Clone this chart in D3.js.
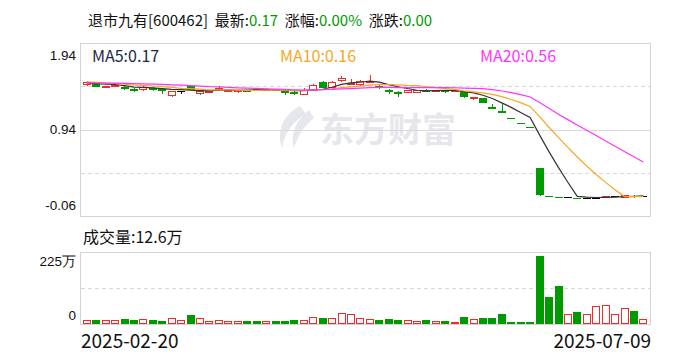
<!DOCTYPE html>
<meta charset="utf-8">
<style>
body { margin: 0; background: #fff; }
svg { font-family: 'Noto Sans CJK SC', 'Noto Sans', sans-serif; }
.frame { fill: none; stroke: #d4d4d8; shape-rendering: crispEdges; }
.grid-solid { stroke: #d9d9dd; shape-rendering: crispEdges; }
.grid-dash { stroke: #d9d9dd; stroke-dasharray: 4,3; shape-rendering: crispEdges; }
.axis .domain, .axis line { display: none; }
.axis text { fill: #111; font-size: 13.5px; }
.ma-line { fill: none; stroke-width: 1.2px; }
</style>
<svg width="688" height="360"></svg>
<script src="https://cdn.jsdelivr.net/npm/d3@7"></script>
<script>
var stockName = "退市九有[600462]";
var dates = ["2025-02-20", "2025-07-09"];

// closes before the first shown day, only used to seed the moving averages
var priorClose = [1.45, 1.46, 1.47, 1.48, 1.46, 1.45, 1.47, 1.48, 1.47, 1.47,
                  1.50, 1.51, 1.50, 1.49, 1.51, 1.48, 1.47, 1.47, 1.48];

var openPx  = [1.47,1.48,1.43,1.44,1.43,1.41,1.41,1.42,1.41,1.34, 1.38,1.44,1.36,1.37,1.41,1.39,1.38,1.40,1.41,1.40,
               1.41,1.38,1.37,1.35,1.40,1.49,1.43,1.51,1.47,1.47, 1.49,1.44,1.40,1.37,1.37,1.37,1.40,1.39,1.39,1.38,
               1.37,1.30,1.30,1.20,1.15,1.07,1.02,0.97,0.49,0.17, 0.16,0.16,0.15,0.15,0.15,0.16,0.17,0.16,0.17,0.17];
var highPx  = [1.50,1.49,1.44,1.46,1.44,1.42,1.44,1.43,1.41,1.38, 1.39,1.45,1.38,1.38,1.44,1.40,1.40,1.40,1.42,1.42,
               1.41,1.39,1.38,1.42,1.47,1.50,1.50,1.56,1.52,1.51, 1.57,1.47,1.41,1.39,1.40,1.40,1.41,1.40,1.40,1.39,
               1.38,1.32,1.30,1.23,1.24,1.07,1.02,0.97,0.49,0.17, 0.16,0.16,0.15,0.15,0.15,0.17,0.17,0.18,0.18,0.17];
var lowPx   = [1.46,1.44,1.43,1.44,1.41,1.38,1.40,1.40,1.36,1.33, 1.36,1.41,1.35,1.37,1.40,1.39,1.37,1.39,1.40,1.40,
               1.40,1.35,1.35,1.35,1.40,1.43,1.42,1.50,1.47,1.46, 1.49,1.42,1.36,1.33,1.37,1.37,1.38,1.39,1.37,1.38,
               1.32,1.29,1.26,1.19,1.14,1.07,1.02,0.97,0.18,0.17, 0.16,0.16,0.15,0.15,0.15,0.16,0.17,0.16,0.16,0.17];
var closePx = [1.49,1.44,1.44,1.45,1.42,1.40,1.43,1.41,1.40,1.38, 1.38,1.41,1.38,1.38,1.42,1.40,1.39,1.39,1.40,1.41,
               1.40,1.37,1.36,1.40,1.46,1.43,1.49,1.53,1.48,1.50, 1.50,1.43,1.38,1.36,1.40,1.40,1.39,1.40,1.38,1.39,
               1.33,1.32,1.26,1.19,1.14,1.07,1.02,0.97,0.19,0.17, 0.16,0.16,0.15,0.15,0.15,0.17,0.17,0.18,0.17,0.17];
// volume, in 万 (10k shares)
var volume = [10.5,10.5,10.5,10.5,13.6,10.5,13.6,10.5,8.5,16.7, 10.5,25.2,16.7,7.3,10.5,7.3,7.3,7.3,7.3,7.3,
              7.3,7.3,10.5,10.5,22,16.7,16.7,31.5,29.4,15.8, 13.6,10.5,13.6,10.5,10.5,7.3,10.5,7.3,7.3,4.1,
              19.9,13.6,16.7,16.7,29.4,4.1,4.1,4.1,212,83, 117.7,28.4,35.7,28.4,53.6,56.8,28.4,47.3,38.8,12.6];

var priceTicks = [1.94, 0.94, -0.06];
var priceDashed = [1.44, 0.44];
var volumeTicks = [225, 0];
var maPeriods = [5, 10, 20];
var maColors = ["#333333", "#f5a623", "#ff33ff"];
var maLabelColors = ["#1b2a44", "#f5a623", "#ff33ff"];

var red = "#ee2a2a", green = "#009a00";

var svg = d3.select("svg");
var n = closePx.length;
var idx = d3.range(n);

var x = d3.scaleBand().domain(idx).range([82, 648]).paddingInner(0.18).paddingOuter(0.09);
var y = d3.scaleLinear().domain([-0.06, 1.94]).range([216, 43]);
var yv = d3.scaleLinear().domain([0, 225]).range([323.5, 252]);

function cx(i) { return Math.round(x(i) + x.bandwidth() / 2) + 0.5; }

function prevClose(i) { return i === 0 ? priorClose[priorClose.length - 1] : closePx[i - 1]; }
function colorOf(i) {
  if (closePx[i] > openPx[i]) return red;
  if (closePx[i] < openPx[i]) return green;
  if (closePx[i] > prevClose(i)) return red;
  if (closePx[i] < prevClose(i)) return green;
  return "#000";
}

// moving averages
var allClose = priorClose.concat(closePx);
var ma = maPeriods.map(function(p) {
  return idx.map(function(i) {
    var k = i + priorClose.length;
    return d3.mean(allClose.slice(k - p + 1, k + 1));
  });
});

// title
var last = closePx[n - 1], chg = last - closePx[n - 2];
var title = svg.append("text").attr("x", 88).attr("y", 26)
    .style("font-size", "15px").style("white-space", "pre");
title.append("tspan").attr("fill", "#111").text(stockName + "  最新:");
title.append("tspan").attr("fill", green).text(last.toFixed(2));
title.append("tspan").attr("fill", "#111").text("  涨幅:");
title.append("tspan").attr("fill", green).text((chg / closePx[n - 2] * 100).toFixed(2) + "%");
title.append("tspan").attr("fill", "#111").text("  涨跌:");
title.append("tspan").attr("fill", green).text(chg.toFixed(2));

// watermark
var wm = svg.append("g").attr("fill", "#e6e7ec");
wm.append("path").attr("d", "M300,106 C284,114 276,130 282,148 C284,134 292,122 306,114 Z");
wm.append("path").attr("d", "M309,110 C296,120 290,134 294,148 C298,136 304,126 314,118 Z");
wm.append("text").attr("x", 320).attr("y", 142).style("font-size", "34px").style("font-weight", "bold")
  .text("东方财富");

// price grid + frame
var pg = svg.append("g");
pg.selectAll(".grid-solid").data([0.94]).enter().append("line")
    .attr("class", "grid-solid")
    .attr("x1", 80.5).attr("x2", 651).attr("y1", function(d) { return Math.round(y(d)) + 0.5; })
    .attr("y2", function(d) { return Math.round(y(d)) + 0.5; });
pg.selectAll(".grid-dash").data(priceDashed).enter().append("line")
    .attr("class", "grid-dash")
    .attr("x1", 81).attr("x2", 651).attr("y1", function(d) { return Math.round(y(d)) + 0.5; })
    .attr("y2", function(d) { return Math.round(y(d)) + 0.5; });
pg.append("rect").attr("class", "frame")
    .attr("x", 80.5).attr("y", Math.round(y(1.94)) + 0.5)
    .attr("width", 570).attr("height", Math.round(y(-0.06)) - Math.round(y(1.94)));

var ax = svg.append("g").attr("class", "axis").attr("transform", "translate(80,0)")
    .call(d3.axisLeft(y).tickValues(priceTicks).tickSize(0).tickPadding(4)
      .tickFormat(function(d) { return d.toFixed(2); }));
ax.selectAll("text").attr("dy", function(d) {
  if (d === priceTicks[0]) return "1.2em";
  if (d === priceTicks[priceTicks.length - 1]) return "-0.45em";
  return "0.32em";
});

// MA labels
var maLabelX = [92, 280, 480];
maPeriods.forEach(function(p, k) {
  svg.append("text").attr("x", maLabelX[k]).attr("y", 62)
    .attr("fill", maLabelColors[k]).style("font-size", "16px")
    .text("MA" + p + ":" + ma[k][n - 1].toFixed(2));
});

// candles
var cg = svg.append("g");
idx.forEach(function(i) {
  var c = colorOf(i), xc = cx(i);
  var bx = Math.round(x(i)) + 0.5, bw = Math.round(x.bandwidth()) - 1;
  cg.append("line").attr("x1", xc).attr("x2", xc)
    .attr("y1", Math.round(y(highPx[i]))).attr("y2", Math.round(y(lowPx[i])) + 1)
    .attr("stroke", c);
  var top = Math.round(y(Math.max(openPx[i], closePx[i]))), bot = Math.round(y(Math.min(openPx[i], closePx[i])));
  if (bot - top < 1) {
    cg.append("line").attr("x1", bx - 0.5).attr("x2", bx + bw + 0.5)
      .attr("y1", top + 0.5).attr("y2", top + 0.5).attr("stroke", c);
  } else if (c === red) {
    cg.append("rect").attr("x", bx).attr("y", top + 0.5).attr("width", bw).attr("height", bot - top)
      .attr("fill", "#fff").attr("stroke", c);
  } else {
    cg.append("rect").attr("x", bx - 0.5).attr("y", top).attr("width", bw + 1).attr("height", bot - top + 1)
      .attr("fill", c);
  }
});

// moving average lines
maPeriods.forEach(function(p, k) {
  svg.append("path").datum(ma[k])
    .attr("class", "ma-line").attr("stroke", maColors[k])
    .attr("d", d3.line().x(function(d, i) { return x(i) + x.bandwidth() / 2; }).y(function(d) { return y(d); }));
});

// volume panel
svg.append("text").attr("x", 83).attr("y", 243).attr("fill", "#111").style("font-size", "16px")
  .text("成交量:" + volume[n - 1].toFixed(1) + "万");

svg.append("line").attr("class", "grid-dash")
  .attr("x1", 81).attr("x2", 651).attr("y1", Math.round(yv(112.5)) + 0.5).attr("y2", Math.round(yv(112.5)) + 0.5);
svg.append("rect").attr("class", "frame")
  .attr("x", 80.5).attr("y", Math.round(yv(225)) + 0.5).attr("width", 570)
  .attr("height", Math.round(yv(0)) - Math.round(yv(225)));

var vax = svg.append("g").attr("class", "axis").attr("transform", "translate(80,0)")
    .call(d3.axisLeft(yv).tickValues(volumeTicks).tickSize(0).tickPadding(4)
      .tickFormat(function(d) { return d === 0 ? "0" : d + "万"; }));
vax.selectAll("text").attr("dy", function(d) { return d === 0 ? "-0.3em" : "1.0em"; });

var vg = svg.append("g");
idx.forEach(function(i) {
  var c = colorOf(i) === green ? green : red;
  var bx = Math.round(x(i)) + 0.5, bw = Math.round(x.bandwidth()) - 1;
  var top = Math.round(yv(volume[i])), bot = Math.round(yv(0));
  if (c === red) {
    vg.append("rect").attr("x", bx).attr("y", top + 0.5).attr("width", bw).attr("height", Math.max(1, bot - top - 1))
      .attr("fill", "#fff").attr("stroke", red);
  } else {
    vg.append("rect").attr("x", bx - 0.5).attr("y", top).attr("width", bw + 1).attr("height", bot - top)
      .attr("fill", green);
  }
});

// dates
svg.append("text").attr("x", 81).attr("y", 348).attr("fill", "#111").style("font-size", "19px").text(dates[0]);
svg.append("text").attr("x", 651).attr("y", 348).attr("text-anchor", "end").attr("fill", "#111")
  .style("font-size", "19px").text(dates[1]);
</script>
